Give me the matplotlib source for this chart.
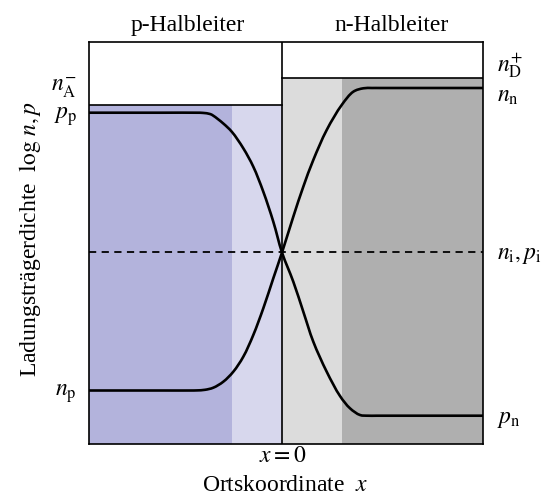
import matplotlib
matplotlib.use("Agg")
import matplotlib.pyplot as plt
from matplotlib.path import Path
from matplotlib.patches import PathPatch

plt.rcParams["font.family"] = ["Liberation Serif", "DejaVu Serif"]
plt.rcParams["mathtext.fontset"] = "stix"

# Position (arbitrary units, junction at x = 0) and log carrier density (arbitrary units)
x_left, x_right = -1.93, 2.01
w_p, w_n = 0.50, 0.60          # depletion width on p- and n-side
log_NA = 3.39                   # acceptor level n_A^-
log_ND = 3.66                   # donor level n_D^+
log_ni = 1.915                  # intrinsic density n_i, p_i

# Hole density p(x)
x_p = [-1.93, -1.2, -0.86, -0.79, -0.72, -0.687, -0.587, -0.50, -0.387, -0.287, -0.187, -0.087,
       0.0, 0.113, 0.213, 0.313, 0.447, 0.58, 0.68, 0.78, 0.86, 0.95, 1.3, 2.01]
log_p = [3.313, 3.313, 3.313, 3.311, 3.300, 3.283, 3.205, 3.12, 2.957, 2.773, 2.523, 2.223,
         1.915, 1.623, 1.323, 1.023, 0.723, 0.48, 0.357, 0.29, 0.283, 0.283, 0.283, 0.283]

# Electron density n(x)
x_n = [-1.93, -1.2, -0.92, -0.85, -0.77, -0.687, -0.587, -0.487, -0.387, -0.287, -0.187, -0.087,
       0.0, 0.113, 0.213, 0.313, 0.447, 0.597, 0.713, 0.813, 0.90, 0.98, 1.3, 2.01]
log_n = [0.535, 0.535, 0.535, 0.536, 0.542, 0.563, 0.623, 0.723, 0.873, 1.09, 1.357, 1.657,
         1.915, 2.273, 2.573, 2.84, 3.14, 3.39, 3.523, 3.557, 3.56, 3.56, 3.56, 3.56]


def smooth_path(xs, ys, alpha=0.5):
    """Centripetal Catmull-Rom curve through every given point, as cubic Bezier segments."""
    pts = list(zip(xs, ys))
    n = len(pts)

    def dist(a, b):
        return ((a[0] - b[0]) ** 2 + (a[1] - b[1]) ** 2) ** (alpha / 2)

    verts = [pts[0]]
    codes = [Path.MOVETO]
    for i in range(n - 1):
        p1, p2 = pts[i], pts[i + 1]
        d2 = dist(p1, p2)
        if i > 0:
            p0 = pts[i - 1]
            d1 = dist(p0, p1)
            a, b, c = d1 ** 2, d2 ** 2, 2 * d1 ** 2 + 3 * d1 * d2 + d2 ** 2
            den = 3 * d1 * (d1 + d2)
            c1 = tuple((a * p2[k] - b * p0[k] + c * p1[k]) / den for k in range(2))
        else:
            c1 = tuple(p1[k] + (p2[k] - p1[k]) / 3 for k in range(2))
        if i + 2 < n:
            p3 = pts[i + 2]
            d3 = dist(p2, p3)
            a, b, c = d3 ** 2, d2 ** 2, 2 * d3 ** 2 + 3 * d3 * d2 + d2 ** 2
            den = 3 * d3 * (d3 + d2)
            c2 = tuple((a * p1[k] - b * p3[k] + c * p2[k]) / den for k in range(2))
        else:
            c2 = tuple(p2[k] - (p2[k] - p1[k]) / 3 for k in range(2))
        verts += [c1, c2, p2]
        codes += [Path.CURVE4] * 3
    return Path(verts, codes)


fig = plt.figure(figsize=(5.47, 4.98), dpi=100)
ax = fig.add_axes([89 / 547, 54 / 498, 394 / 547, 402 / 498])
ax.set_xlim(x_left, x_right)
ax.set_ylim(0, 4.02)

dark_p, light_p = "#b3b3dc", "#d7d7ed"
dark_n, light_n = "#afafaf", "#dcdcdc"

# Doped regions, neutral and depleted
ax.fill_between([x_left, -w_p], 0, log_NA, color=dark_p, lw=0)
ax.fill_between([-w_p, 0], 0, log_NA, color=light_p, lw=0)
ax.fill_between([0, w_n], 0, log_ND, color=light_n, lw=0)
ax.fill_between([w_n, x_right], 0, log_ND, color=dark_n, lw=0)
ax.plot([x_left, 0], [log_NA, log_NA], color="black", lw=1.2)
ax.plot([0, x_right], [log_ND, log_ND], color="black", lw=1.2)
ax.axvline(0, color="black", lw=1.2)

# Intrinsic level and carrier densities
ax.axhline(log_ni, color="black", lw=1.3, ls=(0, (4, 3)))
for xs, ys in ((x_p, log_p), (x_n, log_n)):
    ax.add_patch(PathPatch(smooth_path(xs, ys), facecolor="none", edgecolor="black",
                           lw=1.9, capstyle="round", joinstyle="round"))

ax.set_xticks([])
ax.set_yticks([])
for s in ax.spines.values():
    s.set_linewidth(1.2)

fs = 17
ax.text((x_left + 0) / 2 + 0.02, 4.02 + 0.16, "p-Halbleiter", ha="center", va="center",
        fontsize=fs, clip_on=False)
ax.text(1.1, 4.02 + 0.16, "n-Halbleiter", ha="center", va="center", fontsize=fs, clip_on=False)

# Level labels
lab = 17
ax.text(-2.05, 3.56, r"$n_{\mathrm{A}}^{-}$", ha="right", va="center", fontsize=lab, clip_on=False)
ax.text(-2.05, 3.27, r"$p_{\mathrm{p}}$", ha="right", va="center", fontsize=lab, clip_on=False)
ax.text(-2.05, 0.50, r"$n_{\mathrm{p}}$", ha="right", va="center", fontsize=lab, clip_on=False)
ax.text(2.15, 3.78, r"$n_{\mathrm{D}}^{+}$", ha="left", va="center", fontsize=lab, clip_on=False)
ax.text(2.15, 3.47, r"$n_{\mathrm{n}}$", ha="left", va="center", fontsize=lab, clip_on=False)
ax.text(2.15, 1.89, r"$n_{\mathrm{i}}, p_{\mathrm{i}}$", ha="left", va="center", fontsize=lab, clip_on=False)
ax.text(2.15, 0.25, r"$p_{\mathrm{n}}$", ha="left", va="center", fontsize=lab, clip_on=False)

ax.text(0.01, -0.12, r"$x = 0$", ha="center", va="center", fontsize=lab, clip_on=False)
ax.text(0.03, -0.41, r"Ortskoordinate  $x$", ha="center", va="center", fontsize=lab, clip_on=False)
ax.text(-2.52, 2.05, r"Ladungsträgerdichte  $\log\, n, p$", ha="center", va="center",
        rotation=90, fontsize=lab, clip_on=False)

fig.savefig("out.png", dpi=100)
